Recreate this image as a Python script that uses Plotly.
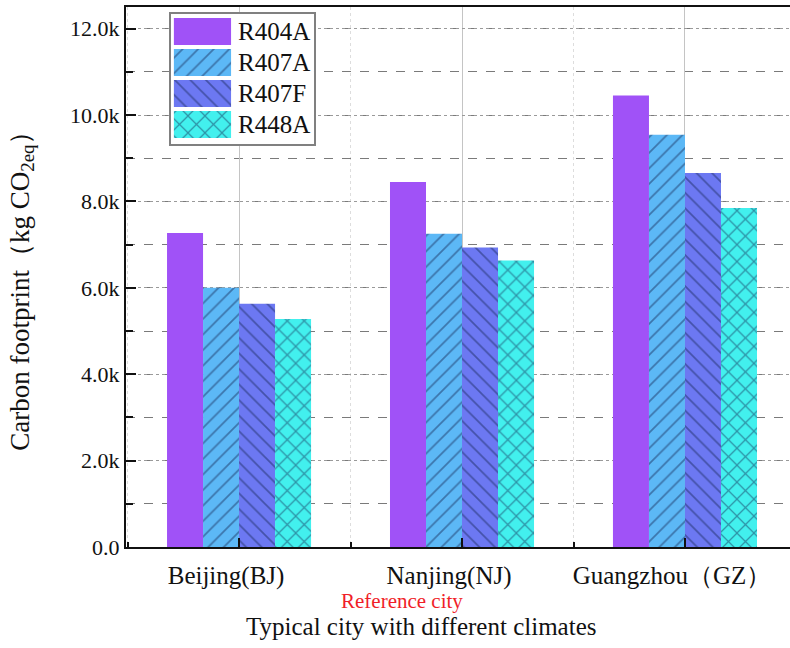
import plotly.graph_objects as go

cities = ["Beijing(BJ)", "Nanjing(NJ)", "Guangzhou（GZ）"]
refrigerants = ["R404A", "R407A", "R407F", "R448A"]
r404a = [7270, 8450, 10450]
r407a = [6000, 7250, 9540]
r407f = [5630, 6930, 8660]
r448a = [5280, 6630, 7850]
series = [r404a, r407a, r407f, r448a]
y_tickvals = [0, 2000, 4000, 6000, 8000, 10000, 12000]
y_ticktext = ["0.0", "2.0k", "4.0k", "6.0k", "8.0k", "10.0k", "12.0k"]

colors = ["#A052F7", "#5CB8F6", "#6C78F2", "#42F0EE"]
shapes = ["", "/", "\\", "x"]
pat_sizes = [11, 11, 11, 12]
solid = [0.16, 0.16, 0.16, 0.2]
HATCH = "rgba(20,35,80,0.9)"
FONT = "Liberation Serif, Times New Roman, serif"

fig = go.Figure()
xs = list(range(len(cities)))
for name, vals, c, s, ps, so in zip(refrigerants, series, colors, shapes, pat_sizes, solid):
    fig.add_trace(go.Bar(
        x=xs, y=vals, name=name, showlegend=False,
        marker=dict(color=c, line=dict(width=0),
                    pattern=dict(shape=s, fgcolor=HATCH, size=ps, solidity=so)),
    ))

# legend inset drawn with the same patterns
for i, (name, c, s, ps, so) in enumerate(zip(refrigerants, colors, shapes, pat_sizes, solid)):
    fig.add_trace(go.Bar(
        x=[4.0], y=[i], base=[0.2], orientation="h", width=0.87, showlegend=False,
        xaxis="x2", yaxis="y2", hoverinfo="skip",
        marker=dict(color=c, line=dict(width=0),
                    pattern=dict(shape=s, fgcolor=HATCH, size=ps, solidity=so)),
    ))
    fig.add_annotation(x=4.55, y=i, xref="x2", yref="y2", text=name, showarrow=False,
                       xanchor="left", yanchor="middle",
                       font=dict(family=FONT, size=25, color="#111"))

fig.update_layout(
    width=790, height=648,
    margin=dict(l=126, r=0, t=7, b=101),
    paper_bgcolor="white", plot_bgcolor="white",
    barmode="group", bargap=0.354, bargroupgap=0,
    font=dict(family=FONT, size=21, color="#111"),
    xaxis=dict(
        range=[-0.507, 2.471], tickvals=xs, ticktext=cities,
        ticks="inside", ticklen=9, tickwidth=2, tickcolor="#111",
        ticklabelshift=-13, ticklabelstandoff=5,
        tickfont=dict(family=FONT, size=25, color="#111"),
        showline=True, linecolor="#111", linewidth=2, mirror=True,
        showgrid=True, gridcolor="#c4c4c4", gridwidth=1,
        minor=dict(dtick=1, tick0=0.5, ticks="inside", ticklen=5, tickwidth=2, tickcolor="#111",
                   showgrid=True, gridcolor="#dddddd", griddash="dot", gridwidth=1),
        zeroline=False,
    ),
    yaxis=dict(
        range=[0, 12500], tickvals=y_tickvals, ticktext=y_ticktext,
        ticks="inside", ticklen=10, tickwidth=2, tickcolor="#111",
        tickfont=dict(family=FONT, size=22, color="#111"),
        showline=True, linecolor="#111", linewidth=2,
        showgrid=True, gridcolor="#9a9a9a", griddash="dot", gridwidth=1,
        minor=dict(dtick=1000, tick0=0, ticks="inside", ticklen=7, tickwidth=2, tickcolor="#111",
                   showgrid=True, gridcolor="#7a7a7a", griddash="dash", gridwidth=1),
        zeroline=False,
    ),
    xaxis2=dict(domain=[0.0678, 0.2831], anchor="y2", range=[0, 10],
                showline=True, mirror=True, linecolor="#808080", linewidth=1.5,
                showgrid=False, zeroline=False, showticklabels=False, ticks="", fixedrange=True),
    yaxis2=dict(domain=[0.7463, 0.987], anchor="x2", range=[3.629, -0.565],
                showline=True, mirror=True, linecolor="#808080", linewidth=1.5,
                showgrid=False, zeroline=False, showticklabels=False, ticks="", fixedrange=True),
)

fig.add_annotation(text="Carbon footprint（kg CO<sub>2eq</sub>）", xref="paper", yref="paper",
                   x=-0.157, y=0.487, textangle=-90, showarrow=False,
                   xanchor="center", yanchor="middle",
                   font=dict(family=FONT, size=27, color="#111"))
fig.add_annotation(text="Reference city", xref="x", yref="paper", x=1, xshift=-60,
                   y=-0.1, showarrow=False, xanchor="center", yanchor="middle",
                   font=dict(family=FONT, size=21, color="#f01e28"))
fig.add_annotation(text="Typical city with different climates", xref="paper", yref="paper",
                   x=0.444, y=-0.148, showarrow=False, xanchor="center", yanchor="middle",
                   font=dict(family=FONT, size=25, color="#111"))

fig.write_html("out.html", config={"displayModeBar": False},
               post_script="document.body.style.margin='0';document.body.style.overflow='hidden';")
